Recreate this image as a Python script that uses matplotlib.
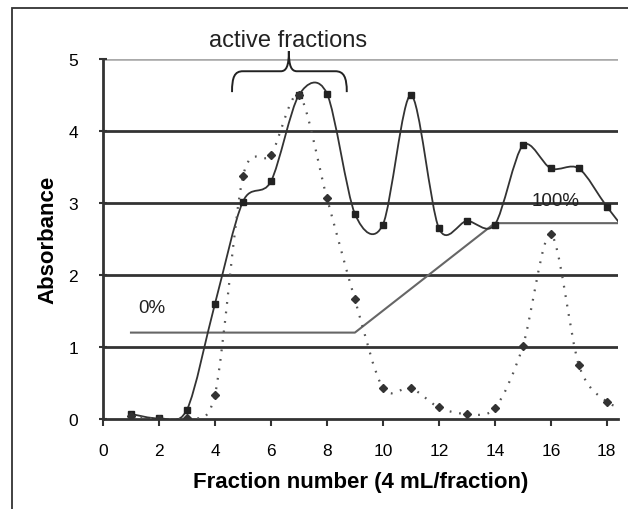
import numpy as np
import matplotlib
matplotlib.use("Agg")
import matplotlib.pyplot as plt
from matplotlib.path import Path
from matplotlib.patches import PathPatch, Rectangle

plt.rcParams['font.family'] = ['Liberation Sans', 'DejaVu Sans']

# fraction number and absorbance readings (19 lies past the axis end)
fractions = [1, 2, 3, 4, 5, 6, 7, 8, 9, 10, 11, 12, 13, 14, 15, 16, 17, 18, 19]
abs_solid = [0.07, 0.01, 0.13, 1.6, 3.02, 3.3, 4.5, 4.52, 2.85, 2.7, 4.5,
             2.65, 2.75, 2.7, 3.8, 3.48, 3.48, 2.95, 2.45]
abs_dotted = [0.04, 0.0, 0.02, 0.34, 3.37, 3.67, 4.5, 3.07, 1.66, 0.43, 0.43,
              0.16, 0.07, 0.15, 1.01, 2.57, 0.75, 0.24, 0.12]
# gradient profile (0% -> 100%)
grad_x = [1, 9, 14, 19]
grad_y = [1.2, 1.2, 2.72, 2.72]


def smooth_path(xs, ys, k=0.15):
    # excel-like smoothed line: catmull-rom segments as cubic beziers
    pts = np.column_stack([xs, ys]).astype(float)
    verts = [pts[0]]
    codes = [Path.MOVETO]
    n = len(pts)
    for i in range(n - 1):
        p0 = pts[max(i - 1, 0)]
        p1 = pts[i]
        p2 = pts[i + 1]
        p3 = pts[min(i + 2, n - 1)]
        c1 = p1 + (p2 - p0) * k
        c2 = p2 - (p3 - p1) * k
        verts += [c1, c2, p2]
        codes += [Path.CURVE4] * 3
    return Path(verts, codes)


fig = plt.figure(figsize=(6.28, 5.10), dpi=100)
ax = fig.add_axes([103 / 628, 1 - 420 / 510, 515 / 628, 360 / 510])

# outer frame of the pasted chart
fig.patches.append(Rectangle((12 / 628, -0.1), 1.2, 1 - 9 / 510 + 0.1,
                             transform=fig.transFigure, fill=False,
                             edgecolor='#333333', linewidth=1.3))

for yv in [1, 2, 3, 4]:
    ax.axhline(yv, color='#333333', linewidth=2.0, zorder=1)
ax.axhline(5, color='#aaaaaa', linewidth=2.6, zorder=1)

ax.add_patch(PathPatch(smooth_path(fractions, abs_solid), fill=False,
                       edgecolor='#333333', linewidth=1.3, zorder=3))
ax.add_patch(PathPatch(smooth_path(fractions, abs_dotted), fill=False,
                       edgecolor='#555555', linewidth=1.6,
                       linestyle=(0, (0.8, 3.5)), zorder=3))
ax.plot(fractions, abs_solid, linestyle='none', marker='s', markersize=5,
        color='#222222', zorder=4)
ax.plot(fractions, abs_dotted, linestyle='none', marker='D', markersize=4,
        color='#333333', zorder=4)
ax.plot(grad_x, grad_y, color='#666666', linewidth=1.5, zorder=2)

# brace over the active fractions
brace = Path([(4.61, 4.54), (4.61, 4.75), (4.7, 4.83), (5.0, 4.83),
              (6.35, 4.83), (6.55, 4.83), (6.64, 4.9), (6.64, 5.11),
              (6.64, 4.9), (6.73, 4.83), (6.93, 4.83),
              (8.3, 4.83), (8.6, 4.83), (8.71, 4.75), (8.71, 4.54)],
             [Path.MOVETO, Path.CURVE4, Path.CURVE4, Path.CURVE4,
              Path.LINETO, Path.CURVE4, Path.CURVE4, Path.CURVE4,
              Path.CURVE4, Path.CURVE4, Path.CURVE4,
              Path.LINETO, Path.CURVE4, Path.CURVE4, Path.CURVE4])
ax.add_patch(PathPatch(brace, fill=False, edgecolor='#222222',
                       linewidth=1.4, clip_on=False, zorder=5))

ax.text(6.6, 5.27, 'active fractions', ha='center', va='center',
        fontsize=17, color='#222222', clip_on=False)
ax.text(1.25, 1.55, '0%', ha='left', va='center', fontsize=13.5,
        color='#222222')
ax.text(15.3, 3.03, '100%', ha='left', va='center', fontsize=13.5,
        color='#222222')

ax.set_xlim(0, 18.4)
ax.set_ylim(0, 5)
ax.set_xticks(range(0, 19, 2))
ax.set_yticks(range(0, 6))
for s in ['top', 'right']:
    ax.spines[s].set_visible(False)
for s in ['left', 'bottom']:
    ax.spines[s].set_linewidth(2.0)
    ax.spines[s].set_color('#333333')
ax.tick_params(axis='x', direction='out', length=5, width=1.5,
               color='#333333', labelsize=12.5, pad=12)
ax.tick_params(axis='y', direction='inout', length=6, width=1.5,
               color='#333333', labelsize=12.5, pad=15)

ax.set_xlabel('Fraction number (4 mL/fraction)', fontsize=16,
              fontweight='bold', labelpad=10)
ax.set_ylabel('Absorbance', fontsize=16, fontweight='bold', labelpad=7)

fig.savefig('out.png', dpi=100)
